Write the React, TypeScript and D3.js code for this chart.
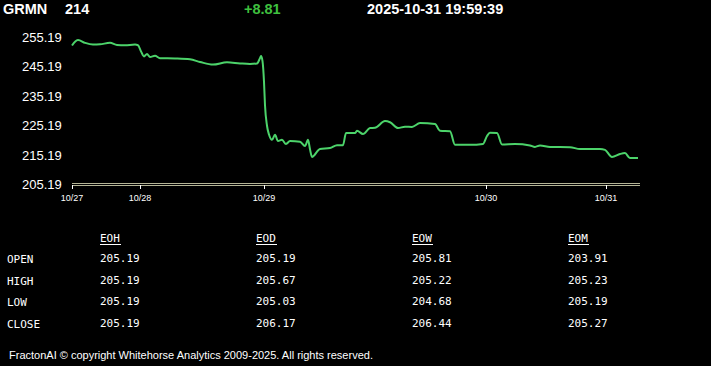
import * as d3 from 'd3';

// price samples: t = session offset (1 unit ~ 2 px on the original), v = price
const priceT = [
  0, 1.5, 3, 6.5, 10.5, 14, 19, 22.5, 26.5, 31.5, 33, 34.5, 36, 37.5, 39, 41.5, 44, 51.5, 59, 64,
  70.5, 77.5, 84, 89, 92.5, 94, 94.5, 95.25, 96, 96.5, 97.5, 98.5, 100, 101.5, 103, 105, 107, 109,
  114, 116.5, 118, 119, 120, 124, 129, 132.5, 135.5, 137, 141.5, 142.5, 145.5, 149, 151.5, 156.5,
  159, 163, 166.5, 170, 174, 181.5, 184, 189, 191.5, 199, 205.5, 207.5, 209, 212.5, 215, 221.5,
  229, 231.5, 234, 239, 249, 254, 264, 266.5, 270, 274, 276.5, 279, 283,
];
const priceV = [
  252.3, 253.6, 254.2, 253.2, 252.6, 252.7, 253.2, 252.5, 252.4, 252.6, 252.4, 250.3, 248.6, 249.4,
  248.4, 248.8, 248.0, 247.9, 247.6, 246.7, 245.8, 246.6, 246.2, 246.0, 246.2, 248.0, 248.7, 247.0,
  240.0, 232.0, 225.0, 222.0, 220.2, 221.9, 219.8, 220.2, 218.8, 219.8, 219.6, 218.1, 220.2, 217.0,
  214.4, 217.1, 217.4, 218.4, 218.4, 222.5, 222.5, 223.3, 222.2, 224.2, 224.3, 226.6, 226.2, 224.2,
  224.7, 224.6, 225.9, 225.6, 223.3, 223.1, 218.5, 218.5, 218.8, 221.5, 222.6, 222.5, 218.6, 218.8,
  218.3, 217.8, 218.3, 217.8, 217.7, 217.1, 217.1, 216.8, 214.4, 215.4, 215.7, 214.0, 214.0,
];

const yTicks = [205.19, 215.19, 225.19, 235.19, 245.19, 255.19];
const xTickLabels = ['10/27', '10/28', '10/29', '10/30', '10/31'];
const xTickT = [0, 34, 96, 207, 267];

const header = { symbol: 'GRMN', last: '214', change: '+8.81', stamp: '2025-10-31 19:59:39' };

const tableCols = ['EOH', 'EOD', 'EOW', 'EOM'];
const tableRows = ['OPEN', 'HIGH', 'LOW', 'CLOSE'];
const eohVals = ['205.19', '205.19', '205.19', '205.19'];
const eodVals = ['205.19', '205.67', '205.03', '206.17'];
const eowVals = ['205.81', '205.22', '204.68', '206.44'];
const eomVals = ['203.91', '205.23', '205.19', '205.27'];
const tableVals = [eohVals, eodVals, eowVals, eomVals];

const footer = 'FractonAI \u00A9 copyright Whitehorse Analytics 2009-2025. All rights reserved.';

const W = 711;
const H = 366;
const GREEN = '#4cd36a';
const SANS = 'Arial, "Liberation Sans", sans-serif';
const MONO = 'Consolas, "DejaVu Sans Mono", monospace';

export default function App() {
  const x = d3.scaleLinear().domain([0, 284]).range([72, 640]);
  const y = d3.scaleLinear().domain([205.19, 255.19]).range([184, 37]);

  const pts = priceT.map((t, i) => [t, priceV[i]] as [number, number]);
  const line = d3
    .line<[number, number]>()
    .x((d) => x(d[0]))
    .y((d) => y(d[1]))
    .curve(d3.curveMonotoneX);

  const colX = d3.scalePoint<string>().domain(tableCols).range([100, 568]);
  const rowY = d3.scalePoint<string>().domain(tableRows).range([263, 328]);

  return (
    <div style={{ position: 'fixed', left: 0, top: 0, width: W, height: H, background: '#000' }}>
      <svg width={W} height={H} style={{ display: 'block' }}>
        <rect width={W} height={H} fill="#000" />

        {/* header */}
        <g fontFamily={SANS} fontWeight="bold" fontSize={14.5}>
          <text x={3} y={14} fill="#fff">{header.symbol}</text>
          <text x={65} y={14} fill="#fff">{header.last}</text>
          <text x={244} y={14} fill="#3fc13f">{header.change}</text>
          <text x={367} y={14} fill="#fff">{header.stamp}</text>
        </g>

        {/* y labels */}
        {yTicks.map((v) => (
          <text key={v} x={22} y={y(v) + 5} fill="#fff" fontFamily={SANS} fontSize={13}>
            {v.toFixed(2)}
          </text>
        ))}

        {/* x axis (double line) */}
        <line x1={x(0)} x2={x(284)} y1={183.5} y2={183.5} stroke="#b4b496" strokeWidth={1} />
        <line x1={x(0)} x2={x(284)} y1={185.5} y2={185.5} stroke="#b4b496" strokeWidth={1} />
        {xTickT.map((t, i) => (
          <g key={t}>
            <line x1={Math.round(x(t)) + 0.5} x2={Math.round(x(t)) + 0.5} y1={185} y2={189} stroke="#fff" />
            <text x={x(t)} y={201} textAnchor="middle" fill="#fff" fontFamily={SANS} fontSize={9}>
              {xTickLabels[i]}
            </text>
          </g>
        ))}

        {/* price line */}
        <path d={line(pts) ?? ''} fill="none" stroke={GREEN} strokeWidth={2} strokeLinejoin="round" />

        {/* table */}
        <g fontFamily={MONO} fontSize={11} fill="#fff">
          {tableCols.map((c) => (
            <g key={c}>
              <text x={colX(c)} y={242}>{c}</text>
              <line x1={colX(c)} x2={(colX(c) ?? 0) + 21} y1={244.5} y2={244.5} stroke="#fff" />
            </g>
          ))}
          {tableRows.map((r, ri) => (
            <g key={r}>
              <text x={7} y={rowY(r)}>{r}</text>
              {tableCols.map((c, ci) => (
                <text key={c} x={colX(c)} y={(rowY(r) ?? 0) - 1}>{tableVals[ci][ri]}</text>
              ))}
            </g>
          ))}
        </g>

        {/* footer */}
        <text x={9} y={359} fill="#fff" fontFamily={SANS} fontSize={11}>
          {footer}
        </text>
      </svg>
    </div>
  );
}
